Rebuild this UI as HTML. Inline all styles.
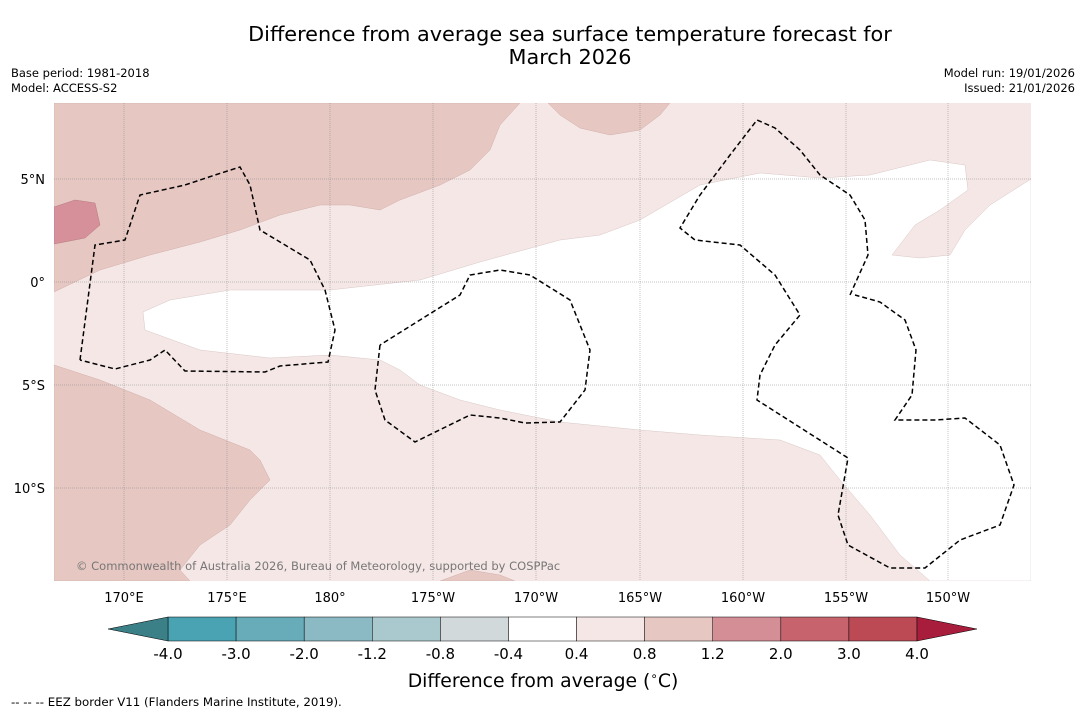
<!DOCTYPE html>
<html><head><meta charset="utf-8"><style>
body{margin:0;background:#fff;font-family:"Liberation Sans","DejaVu Sans",sans-serif}
</style></head><body>
<svg id="chart" width="1085" height="713" xmlns="http://www.w3.org/2000/svg" style="font-family:'DejaVu Sans','Liberation Sans',sans-serif">
<rect width="1085" height="713" fill="#fff"/>
<text x="570" y="41" font-size="20.8" text-anchor="middle">Difference from average sea surface temperature forecast for</text>
<text x="570" y="64" font-size="20.8" text-anchor="middle">March 2026</text>
<text x="11" y="77" font-size="11.5">Base period: 1981-2018</text>
<text x="11" y="92" font-size="11.5">Model: ACCESS-S2</text>
<text x="1075" y="77" font-size="11.5" text-anchor="end">Model run: 19/01/2026</text>
<text x="1075" y="92" font-size="11.5" text-anchor="end">Issued: 21/01/2026</text>
<defs><clipPath id="mc"><rect x="54" y="103" width="977" height="478"/></clipPath></defs>
<g clip-path="url(#mc)">
<rect x="54" y="103" width="977" height="478" fill="#f5e7e6"/>
<path fill="#fff" stroke="#d8c8c6" stroke-width="0.5" d="M143,312 L170,300 230,290 330,290 420,280 480,262 560,240 600,235 640,220 700,185 760,173 820,178 870,175 930,160 965,165 968,190 940,210 915,225 892,255 920,258 950,255 965,230 990,205 1031,179 L1031,581 930,581 900,555 870,515 840,480 820,455 780,440 700,435 640,430 560,422 500,410 460,400 420,385 400,370 380,360 330,355 270,358 200,350 145,330 Z"/>
<g fill="#e6c7c2" stroke="#d0b0ac" stroke-width="0.5">
<path d="M54,103 L520,103 500,125 490,150 470,170 440,185 400,200 380,210 350,205 320,205 280,215 240,230 200,242 150,255 100,270 54,292 Z"/>
<path d="M548,103 L670,103 660,115 640,130 610,135 580,128 560,115 Z"/>
<path d="M54,365 L100,380 150,400 200,430 250,450 260,460 270,480 250,500 230,525 200,545 180,570 190,581 54,581 Z"/>
<path d="M440,581 L470,570 500,575 515,581 Z"/>
</g>
<path fill="#d5909a" stroke="#b87a80" stroke-width="0.5" d="M54,207 L75,200 95,203 100,225 85,238 54,244 Z"/>
<g stroke="#888" stroke-width="0.5" stroke-dasharray="1,1">
<line x1="124" y1="103" x2="124" y2="581"/><line x1="227" y1="103" x2="227" y2="581"/><line x1="330" y1="103" x2="330" y2="581"/><line x1="433" y1="103" x2="433" y2="581"/><line x1="536" y1="103" x2="536" y2="581"/><line x1="640" y1="103" x2="640" y2="581"/><line x1="743" y1="103" x2="743" y2="581"/><line x1="846" y1="103" x2="846" y2="581"/><line x1="948" y1="103" x2="948" y2="581"/>
<line x1="54" y1="179" x2="1031" y2="179"/><line x1="54" y1="282" x2="1031" y2="282"/><line x1="54" y1="385" x2="1031" y2="385"/><line x1="54" y1="488" x2="1031" y2="488"/>
</g>
<g fill="none" stroke="#000" stroke-width="1.5" stroke-dasharray="5,3">
<path d="M80,360 L95,245 125,240 140,195 185,185 215,175 240,167 250,185 260,230 280,242 310,260 325,290 335,330 328,362 280,366 265,372 185,371 165,350 150,360 115,369 80,360"/>
<path d="M380,345 L375,390 385,420 415,442 470,415 500,418 525,423 560,422 585,390 590,350 570,300 530,275 500,270 470,275 460,295 420,320 380,345"/>
<path d="M850,295 L868,255 865,220 850,195 820,175 800,150 775,128 757,120 730,155 700,195 680,228 695,240 740,245 775,275 800,315 775,345 760,375 757,400 848,458 838,515 848,545 890,568 925,568 960,540 1000,525 1014,485 1000,445 965,418 935,420 895,420 912,395 916,350 905,320 880,302 855,295"/>
</g>
<text x="76" y="570" font-size="11.5" fill="#777">© Commonwealth of Australia 2026, Bureau of Meteorology, supported by COSPPac</text>
</g>
<g font-size="13">
<text x="45" y="184" text-anchor="end">5°N</text><text x="45" y="287" text-anchor="end">0°</text><text x="45" y="390" text-anchor="end">5°S</text><text x="45" y="493" text-anchor="end">10°S</text>
</g>
<g font-size="13" text-anchor="middle">
<text x="124" y="602">170°E</text><text x="227" y="602">175°E</text><text x="330" y="602">180°</text><text x="433" y="602">175°W</text><text x="536" y="602">170°W</text><text x="640" y="602">165°W</text><text x="743" y="602">160°W</text><text x="846" y="602">155°W</text><text x="948" y="602">150°W</text>
</g>
<g id="cbar"></g>
<text x="543" y="687" font-size="18.8" text-anchor="middle">Difference from average (<tspan font-size="12" dy="-7">∘</tspan><tspan dy="7">C)</tspan></text>
<text x="11" y="706" font-size="11.8">--  --  -- EEZ border V11 (Flanders Marine Institute, 2019).</text>
</svg>
<script>
const levels = ["-4.0","-3.0","-2.0","-1.2","-0.8","-0.4","0.4","0.8","1.2","2.0","3.0","4.0"];
const binColors = ["#4aa3b3","#68abb9","#8bb9c4","#aac9ce","#d1d9da","#ffffff","#f5e7e6","#e6c7c2","#d48e96","#c6636c","#bb4a55"];
const extendColors = ["#3b7f87","#a81d3b"];
const svgNS="http://www.w3.org/2000/svg";
const g=document.getElementById('cbar');
const x0=168,x1=917,y0=617,h=24;
const w=(x1-x0)/binColors.length;
binColors.forEach((c,i)=>{
  const r=document.createElementNS(svgNS,'rect');
  r.setAttribute('x',x0+i*w);r.setAttribute('y',y0);r.setAttribute('width',w);r.setAttribute('height',h);
  r.setAttribute('fill',c);r.setAttribute('stroke','#000');r.setAttribute('stroke-width','0.5');
  
  
  g.appendChild(r);
});
const tl=document.createElementNS(svgNS,'polygon');
tl.setAttribute('points',`${x0},${y0} ${x0},${y0+h} 108,${y0+h/2}`);
tl.setAttribute('fill',extendColors[0]);tl.setAttribute('stroke','#000');tl.setAttribute('stroke-width','0.5');


g.appendChild(tl);
const tr=document.createElementNS(svgNS,'polygon');
tr.setAttribute('points',`${x1},${y0} ${x1},${y0+h} 977,${y0+h/2}`);
tr.setAttribute('fill',extendColors[1]);tr.setAttribute('stroke','#000');tr.setAttribute('stroke-width','0.5');


g.appendChild(tr);
levels.forEach((l,i)=>{
  const t=document.createElementNS(svgNS,'text');
  t.setAttribute('x',x0+i*w);t.setAttribute('y',659);t.setAttribute('font-size','15');t.setAttribute('text-anchor','middle');
  t.textContent=l;
  
  
  g.appendChild(t);
});
</script>
</body></html>
